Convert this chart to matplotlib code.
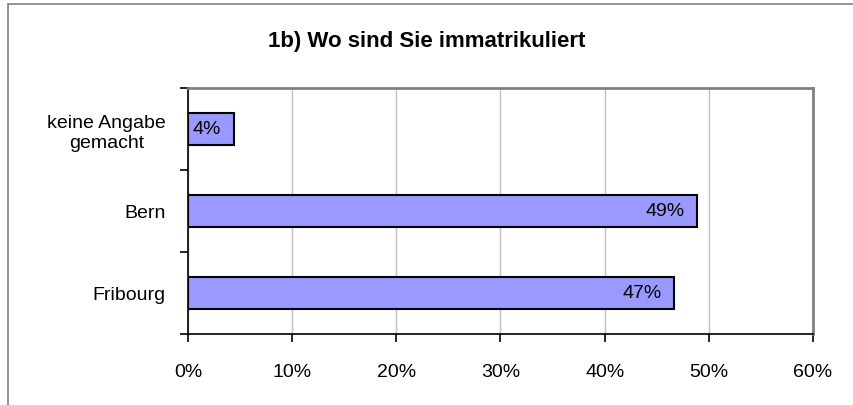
import matplotlib.pyplot as plt
from matplotlib.patches import Rectangle
from matplotlib.ticker import MultipleLocator, PercentFormatter

plt.rcParams['font.family'] = ['Liberation Sans', 'DejaVu Sans']

# categories from bottom to top, as in the reference
categories = ["Fribourg", "Bern", "keine Angabe\ngemacht"]
shares = [46.7, 48.9, 4.4]
labels = ["47%", "49%", "4%"]

W, H = 854, 406
fig = plt.figure(figsize=(W / 100, H / 100), dpi=100)

# outer chart frame (runs off the right and bottom edge)
fig.patches.append(Rectangle((8 / W, -0.05), 1.1, (H - 5) / H + 0.05,
                             transform=fig.transFigure, fill=False,
                             edgecolor="#808080", linewidth=1.2))

# plot area in pixel coords: x 188..813, y 89..335
ax = fig.add_axes([188 / W, 1 - 335 / H, (813 - 188) / W, (335 - 89) / H])

y = range(len(categories))
ax.barh(y, shares, height=0.4, color="#9999FF", edgecolor="black",
        linewidth=1.5, zorder=3)

for yi, v, lab in zip(y, shares, labels):
    ax.text(v - 1.2, yi, lab, ha="right", va="center", fontsize=14, zorder=4)

ax.set_xlim(0, 60)
ax.set_ylim(-0.5, len(categories) - 0.5)
ax.xaxis.set_major_locator(MultipleLocator(10))
ax.xaxis.set_major_formatter(PercentFormatter(decimals=0))
ax.grid(axis="x", color="#c0c0c0", linewidth=1, zorder=0)

ax.set_yticks([-0.5, 0.5, 1.5, 2.5])
ax.set_yticklabels([])
ax.set_yticks(list(y), minor=True)
ax.set_yticklabels(categories, minor=True, fontsize=14, ha="right",
                   multialignment="center")
ax.tick_params(axis="y", which="minor", length=0, pad=16)
ax.tick_params(axis="y", which="major", length=6, width=1.2, direction="out")
ax.tick_params(axis="x", length=6, width=1.2, direction="out", pad=15,
               labelsize=14)

for side in ("top", "right"):
    ax.spines[side].set_color("#808080")
    ax.spines[side].set_linewidth(2)
for side in ("left", "bottom"):
    ax.spines[side].set_color("black")
    ax.spines[side].set_linewidth(1.2)

fig.text(0.5, 1 - 41 / H, "1b) Wo sind Sie immatrikuliert", ha="center",
         va="center", fontsize=16, fontweight="bold")

fig.savefig("out.png", dpi=100)
